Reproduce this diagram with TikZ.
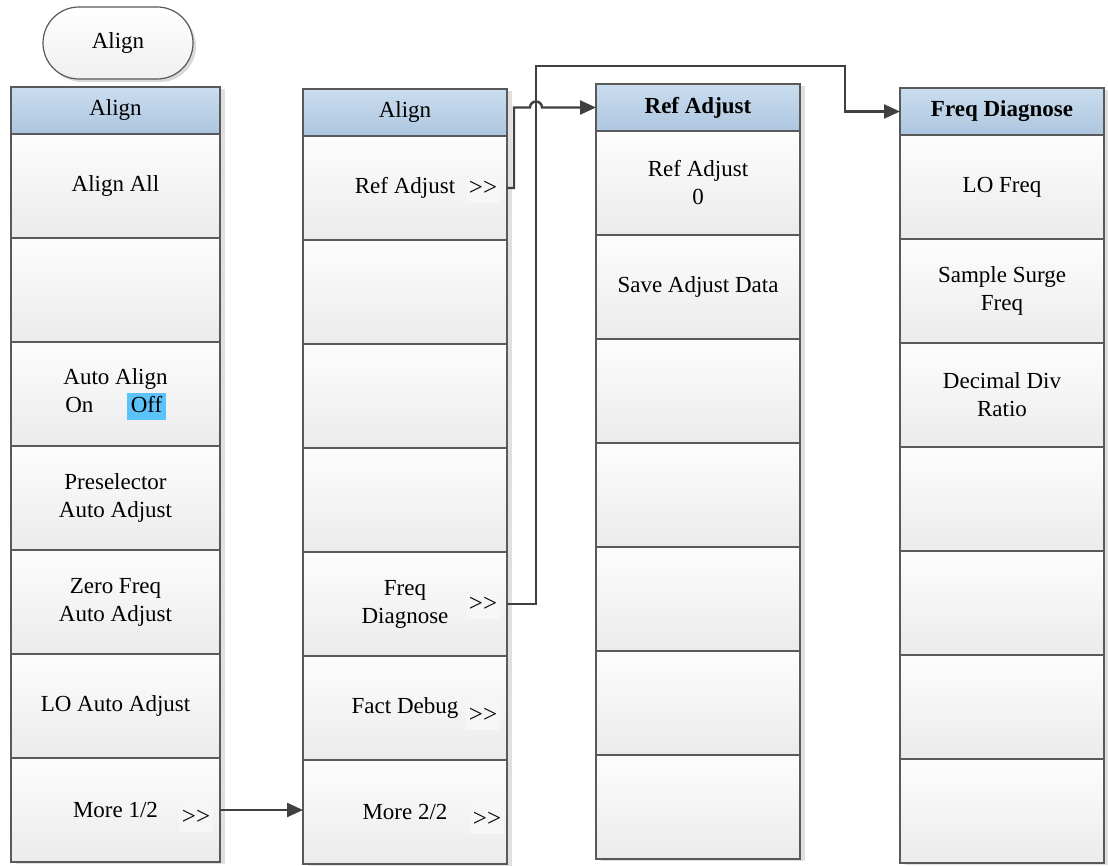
\documentclass[tikz,border=0pt]{standalone}
\usepackage{fontspec}
\setmainfont{Liberation Serif}
\usetikzlibrary{positioning,arrows.meta,shadows,calc}

\definecolor{edgegray}{HTML}{595959}
\definecolor{hdrtop}{HTML}{CADDEF}
\definecolor{hdrbot}{HTML}{ADC6DF}
\definecolor{celltop}{HTML}{FDFDFD}
\definecolor{cellbot}{HTML}{EBEBEB}
\definecolor{linkgray}{HTML}{404040}
\definecolor{offblue}{HTML}{5BC2FA}

\newcommand{\gofwd}{>\kern0pt>}

\begin{document}
\begin{tikzpicture}[
    x=0.5pt, y=-0.5pt,
    font=\fontsize{11.5}{14}\selectfont,
    node distance=0pt,
    menu/.style={rectangle, draw=edgegray, line width=0.6pt, minimum width=102pt, inner sep=2pt, outer sep=0pt, align=center,
        drop shadow={shadow xshift=2.5pt, shadow yshift=-1pt, opacity=0.12, fill=black}},
    head/.style={menu, minimum height=23.5pt, top color=hdrtop, bottom color=hdrbot},
    cell/.style={menu, minimum height=52pt, top color=celltop, bottom color=cellbot},
    wide/.style={minimum width=104.5pt},
    start/.style={rectangle, rounded corners=18pt, draw=edgegray, line width=0.6pt, minimum width=75pt, minimum height=36pt,
        top color=white, bottom color=gray!12, drop shadow={shadow xshift=1.5pt, shadow yshift=-1.5pt, opacity=0.15, fill=black}},
    more/.style={fill=gray!7, inner sep=1.5pt, minimum width=15pt, minimum height=15pt, font=\fontsize{12.5}{14}\selectfont},
    link/.style={draw=linkgray, line width=1.2pt, -{Triangle[length=8pt,width=7pt]}}
]
\useasboundingbox (0,0) rectangle (1108,866);

\node[start] (menukey) at (118,43) {Align};

% -------- Menu 1 --------
\node[head, wide] (head1) at (115.5,110.5) {Align};
\node[cell, wide, below=of head1] (alignall) {Align All};
\node[cell, wide, below=of alignall] (blank1) {};
\node[cell, wide, below=of blank1] (autoalign) {Auto Align\\On\hspace{17pt}{\setlength{\fboxsep}{1.7pt}\colorbox{offblue}{\rule[-2pt]{0pt}{9.5pt}Off}}};
\node[cell, wide, below=of autoalign] (presel) {Preselector\\Auto Adjust};
\node[cell, wide, below=of presel] (zerofreq) {Zero Freq\\Auto Adjust};
\node[cell, wide, below=of zerofreq] (loadjust) {LO Auto Adjust};
\node[cell, wide, below=of loadjust] (more1) {More 1/2};
\node[more] at ([xshift=-12pt,yshift=-3.5pt]more1.east) {\gofwd};

% -------- Menu 2 --------
\node[head] (head2) at (405,112.5) {Align};
\node[cell, below=of head2] (refadj) {Ref Adjust};
\node[cell, below=of refadj] (blank2a) {};
\node[cell, below=of blank2a] (blank2b) {};
\node[cell, below=of blank2b] (blank2c) {};
\node[cell, below=of blank2c] (freqdiag) {Freq\\Diagnose};
\node[cell, below=of freqdiag] (factdebug) {Fact Debug};
\node[cell, below=of factdebug] (more2) {More 2/2};
\node[more] at ([xshift=-12pt]refadj.east) {\gofwd};
\node[more] at ([xshift=-12pt]freqdiag.east) {\gofwd};
\node[more] at ([xshift=-12pt,yshift=-3.5pt]factdebug.east) {\gofwd};
\node[more] at ([xshift=-10pt,yshift=-3.5pt]more2.east) {\gofwd};

% -------- Menu 3 --------
\node[head] (head3) at (698,107.5) {\textbf{Ref Adjust}};
\node[cell, below=of head3] (refval) {Ref Adjust\\0};
\node[cell, below=of refval] (savedata) {Save Adjust Data};
\node[cell, below=of savedata] (blank3a) {};
\node[cell, below=of blank3a] (blank3b) {};
\node[cell, below=of blank3b] (blank3c) {};
\node[cell, below=of blank3c] (blank3d) {};
\node[cell, below=of blank3d] (blank3e) {};

% -------- Menu 4 --------
\node[head] (head4) at (1002,111.5) {\textbf{Freq Diagnose}};
\node[cell, below=of head4] (lofreq) {LO Freq};
\node[cell, below=of lofreq] (surge) {Sample Surge\\Freq};
\node[cell, below=of surge] (decdiv) {Decimal Div\\Ratio};
\node[cell, below=of decdiv] (blank4a) {};
\node[cell, below=of blank4a] (blank4b) {};
\node[cell, below=of blank4b] (blank4c) {};
\node[cell, below=of blank4c] (blank4d) {};

% -------- Arrows --------
\coordinate (riser) at ([xshift=14.5pt]freqdiag.east);
\coordinate (crest) at (536,66);
\coordinate (drop) at (845,66);
\draw[link] (more1.east) -- (more1.east -| more2.west);
\draw[link] (freqdiag.east) -| (crest) -| (drop |- head4.west) -- (head4.west);
\draw[link] (refadj.east) -- ++(3.5pt,0) |- ($(riser |- head3.west)+(-3pt,0)$)
    arc[start angle=180, end angle=0, radius=3pt] -- (head3.west);

\end{tikzpicture}
\end{document}
